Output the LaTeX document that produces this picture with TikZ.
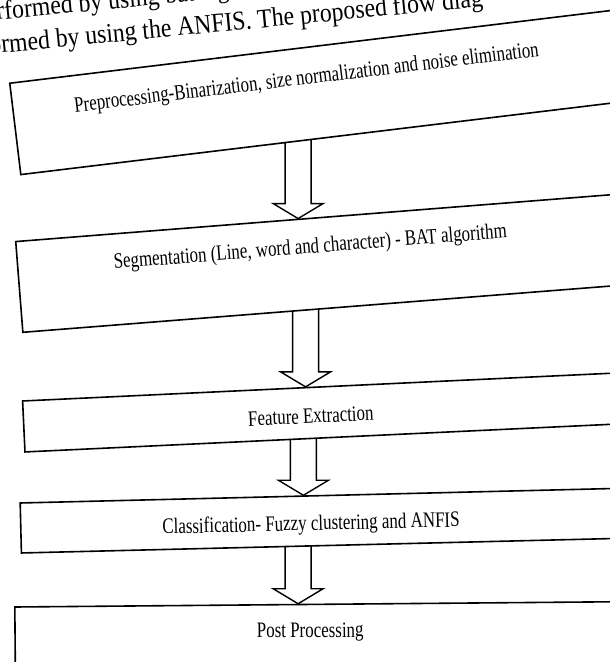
\documentclass[tikz,border=0pt]{standalone}
\usepackage{fontspec}
\setmainfont{Liberation Serif}[FakeStretch=0.77]
\newfontfamily\pagefont{Liberation Serif}[FakeStretch=0.88]
\usetikzlibrary{calc,backgrounds}

\begin{document}
\begin{tikzpicture}[x=1pt,y=-1pt,
    stagebox/.style={draw,line width=1.6pt,fill=white,anchor=west,minimum width=700pt,inner sep=0pt},
    stagelabel/.style={font=\fontsize{22}{26}\selectfont,inner sep=1pt},
    bodyline/.style={font=\pagefont\fontsize{27}{32}\selectfont,anchor=base west,inner sep=0pt,rotate=5.5},
    flow/.style={draw,line width=1.4pt,line join=miter}]
    \useasboundingbox (0,0) rectangle (610,662);
    \clip (0,0) rectangle (610,662);
    \node [bodyline] (line1) at (-3,20) {rformed by using bat alg};
    \node [bodyline] (line2) at (-10,54) {ormed by using the ANFIS. The proposed flow diag};
    \foreach \id/\px/\py/\angle/\h/\tx/\ty/\words in {
        pre/14.5/129/6.9/92/296/-14.5/{Preprocessing-Binarization, size normalization and noise elimination},
        seg/18.5/287/4.5/91/294/-16/{Segmentation (Line, word and character) - BAT algorithm},
        feat/23/426.5/2.7/51/288/3/{Feature Extraction},
        cls/20/528/1.4/50/291/4/{Classification- Fuzzy clustering and ANFIS},
        post/14.3/639/0.5/64/296/-4/{Post Processing}}
    {
        \begin{scope}[shift={(\px,\py)},rotate=\angle,transform shape]
            \node [stagebox,minimum height=\h] (\id) at (0,0) {};
            \node [stagelabel] (\id-text) at (\tx,\ty) {\words};
        \end{scope}
    }
    \begin{pgfonlayer}{background}
        \foreach \from/\to in {pre/seg,seg/feat,feat/cls,cls/post}
        \draw [flow] ($(\to.north west)!.405!(\to.north east)$) coordinate (\to-tip)
            -- ++(-25,-15) -- ++(12,0) coordinate (\to-shaft) -- (\to-shaft |- \from.center)
            -- ++(26,0) -- ($(\to-tip)+(13,-15)$) -- ++(12,0) -- cycle;
    \end{pgfonlayer}
\end{tikzpicture}
\end{document}
